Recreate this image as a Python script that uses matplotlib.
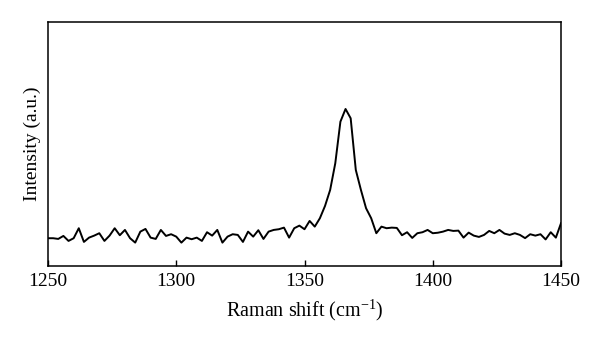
import numpy as np
import matplotlib
matplotlib.use("Agg")
import matplotlib.pyplot as plt

plt.rcParams["font.family"] = ["Liberation Serif", "DejaVu Serif"]
plt.rcParams["mathtext.default"] = "regular"

# Raman spectrum, 2 cm^-1 sampling, intensity in arbitrary units
shift = np.arange(1250, 1451, 2)
intensity = [
    27.7, 27.7, 27.0, 30.0, 25.0, 27.7, 37.7, 24.0, 28.3, 30.3,
    32.7, 25.0, 30.3, 37.7, 30.7, 36.0, 27.7, 23.3, 34.3, 37.0,
    28.3, 27.0, 36.0, 30.0, 31.7, 29.3, 23.3, 28.3, 26.7, 28.3,
    25.0, 33.7, 30.3, 36.0, 23.3, 29.3, 31.7, 31.0, 24.0, 34.3,
    29.3, 35.7, 27.0, 34.3, 36.0, 36.7, 38.3, 28.3, 37.7, 40.3,
    36.7, 45.0, 39.3, 47.7, 60.0, 76.0, 102.7, 144.3, 157.0, 147.7,
    96.0, 76.0, 57.7, 47.7, 32.7, 39.3, 37.7, 38.3, 38.0, 30.7,
    33.7, 28.0, 32.7, 33.7, 36.0, 32.7, 33.2, 34.3, 36.0, 35.0,
    35.3, 28.3, 33.3, 30.3, 29.0, 31.0, 35.0, 32.7, 36.0, 32.3,
    31.0, 32.7, 31.0, 27.8, 31.7, 30.3, 31.7, 26.5, 33.7, 28.3,
    42.7,
]
xticks = [1250, 1300, 1350, 1400, 1450]

fig = plt.figure(figsize=(6.0, 3.44), dpi=100)
ax = fig.add_axes([0.08, 0.227, 0.855, 0.709])
ax.plot(shift, intensity, color="black", lw=1.4)

ax.set_xlim(1250, 1450)
ax.set_ylim(0, 244)
ax.set_xticks(xticks)
ax.set_yticks([])
ax.tick_params(axis="x", direction="in", length=4, width=1.0,
               labelsize=14, pad=5, top=False)
for sp in ax.spines.values():
    sp.set_linewidth(1.1)

ax.set_xlabel("Raman shift (cm$^{-1}$)", fontsize=14.5, labelpad=6)
ax.set_ylabel("Intensity (a.u.)", fontsize=14, labelpad=5)

fig.savefig("out.png", dpi=100)
